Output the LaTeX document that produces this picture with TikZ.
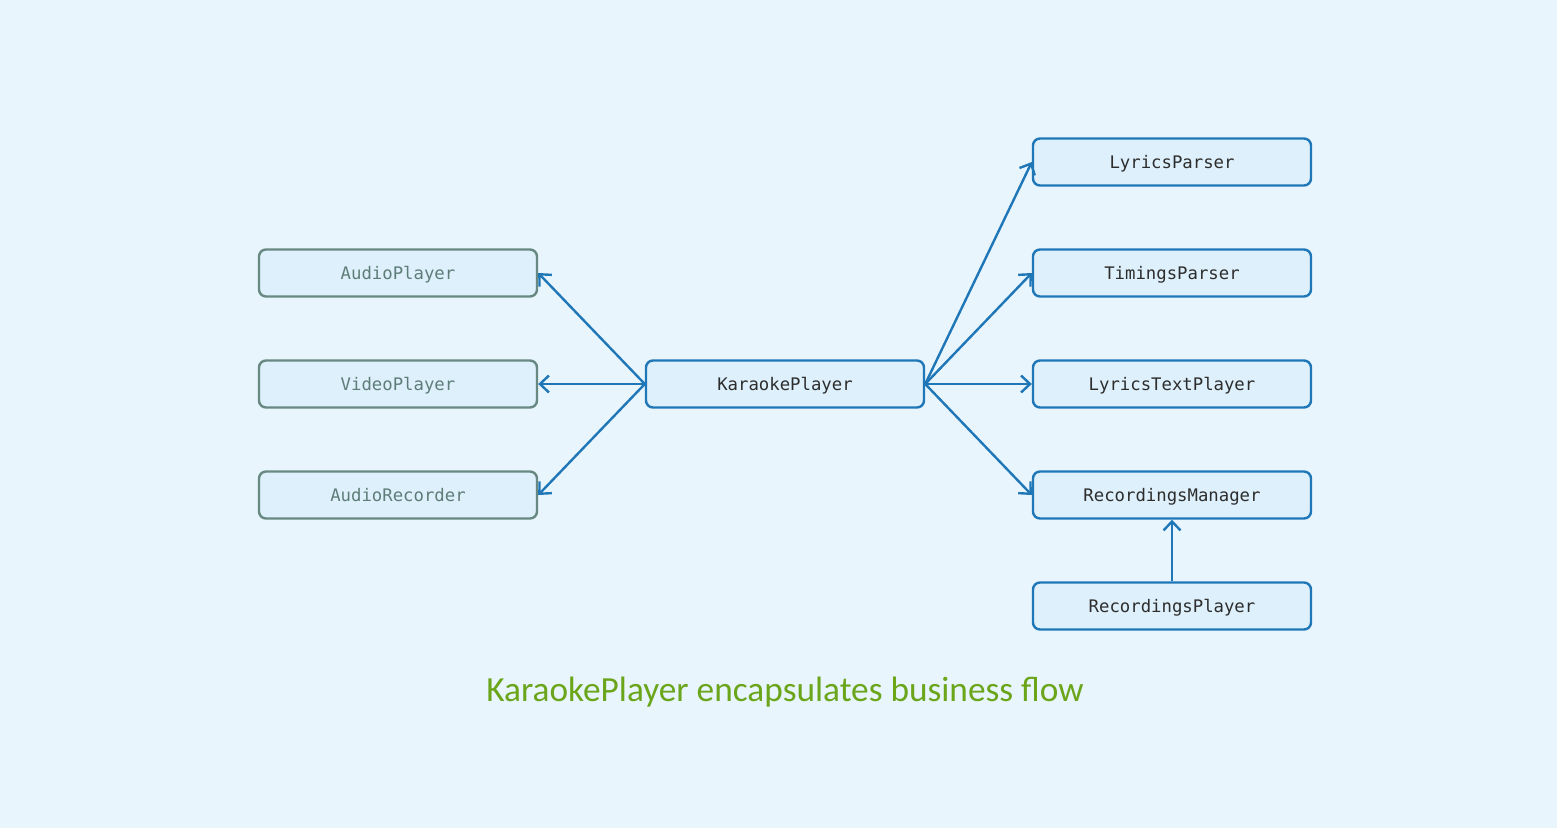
\documentclass[tikz,border=0pt]{standalone}
\usepackage{fontspec}
\setmainfont{Carlito}
\setmonofont{DejaVu Sans Mono}
\usetikzlibrary{arrows.meta}
\definecolor{bgblue}{RGB}{232,245,253}
\definecolor{boxfill}{RGB}{221,240,251}
\definecolor{lineblue}{RGB}{31,119,184}
\definecolor{greyline}{RGB}{104,136,130}
\definecolor{greytext}{RGB}{95,125,120}
\definecolor{darktext}{RGB}{45,45,45}
\definecolor{captiongreen}{RGB}{106,165,26}
\begin{document}
\begin{tikzpicture}[x=1pt,y=1pt,yscale=-1,
  cls/.style={draw, fill=boxfill, rounded corners=7pt, line width=2.4pt, minimum width=278pt, minimum height=47pt, inner sep=0pt, text height=13pt, text depth=0pt, font=\ttfamily\fontsize{17.3}{19}\selectfont},
  ext/.style={cls, draw=greyline, text=greytext},
  own/.style={cls, draw=lineblue, text=darktext},
  link/.style={draw=lineblue, line width=2.4pt, -{Straight Barb[length=9pt,width=17pt,line width=2.4pt]}}]

%background
\path [fill=bgblue] (0,0) rectangle (1557,828);

%left column
\node [ext] (audio) at (398,273) {AudioPlayer};
\node [ext] (video) at (398,384) {VideoPlayer};
\node [ext] (recorder) at (398,495) {AudioRecorder};

%center
\node [own] (karaoke) at (785,384) {KaraokePlayer};

%right column
\node [own] (lyrics) at (1172,162) {LyricsParser};
\node [own] (timings) at (1172,273) {TimingsParser};
\node [own] (text) at (1172,384) {LyricsTextPlayer};
\node [own] (manager) at (1172,495) {RecordingsManager};
\node [own] (recplayer) at (1172,606) {RecordingsPlayer};

%arrows
\draw [link] (karaoke.west) -- (audio.east);
\draw [link] (karaoke.west) -- (video.east);
\draw [link] (karaoke.west) -- (recorder.east);
\draw [link] (karaoke.east) -- (lyrics.west);
\draw [link] (karaoke.east) -- (timings.west);
\draw [link] (karaoke.east) -- (text.west);
\draw [link] (karaoke.east) -- (manager.west);
\draw [link] (recplayer.north) -- (manager.south);

% Text Node
\node [text=captiongreen, font=\fontsize{35.3}{40}\selectfont] (caption) at (785,692) {KaraokePlayer encapsulates business flow};

\end{tikzpicture}
\end{document}
